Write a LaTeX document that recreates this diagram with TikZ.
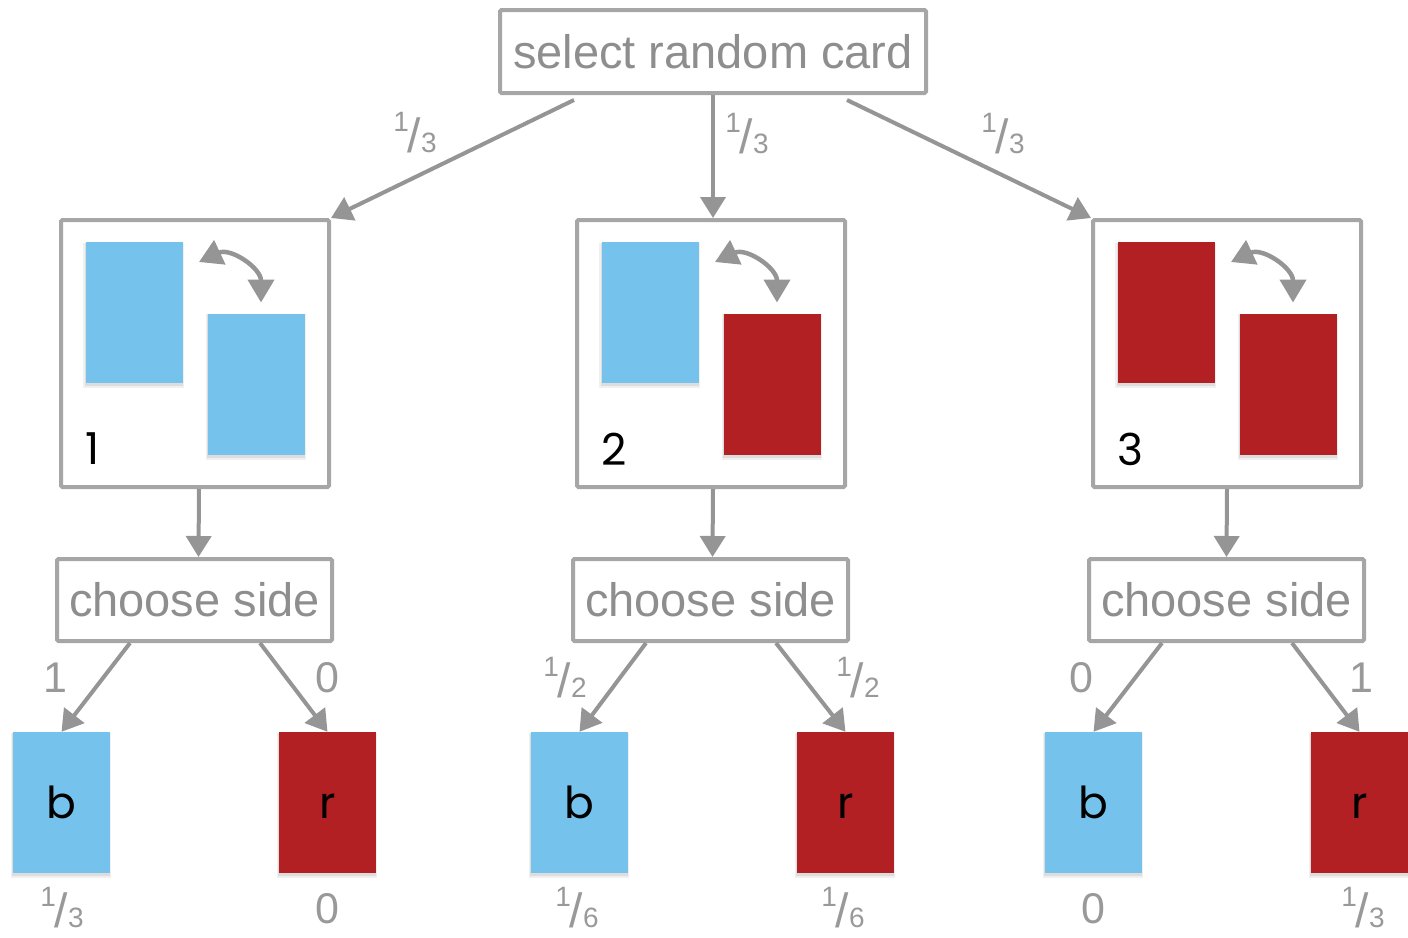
\documentclass[tikz,border=0pt]{standalone}
\usepackage{fontspec}
\setmainfont{Liberation Sans}
\newfontfamily\geo{Poppins}
\usetikzlibrary{arrows.meta,calc}
\definecolor{boxgray}{HTML}{A6A6A6}
\definecolor{arrgray}{HTML}{959595}
\definecolor{txtgray}{HTML}{8E8E8E}
\definecolor{lblgray}{HTML}{999999}
\definecolor{cblue}{HTML}{75C3EC}
\definecolor{cred}{HTML}{B22023}
\newcommand{\fr}[2]{{\fontsize{28}{28}\selectfont\raisebox{21pt}{#1}}\kern-1pt{\fontsize{48}{48}\selectfont/}{\fontsize{28}{28}\selectfont#2}}
% card with soft shadow: name, style, coordinate name, text
\newcommand{\shcard}[4]{%
  \fill[black,opacity=0.06] ($(#3)+(-51,-70)$) rectangle ($(#3)+(49.5,75.5)$);
  \fill[black,opacity=0.08] ($(#3)+(-49.5,-70)$) rectangle ($(#3)+(48.5,73.5)$);
  \node[#2] (#1) at (#3) {#4};}
\tikzset{
  bx/.style={draw=boxgray, line width=4pt, rounded corners=1.5pt, fill=white, inner sep=0pt},
  titlebox/.style={bx, minimum width=426pt, minimum height=83pt, text=txtgray, font=\fontsize{47}{50}\selectfont},
  sidebox/.style={bx, minimum width=275pt, minimum height=82pt, text=txtgray, font=\fontsize{47}{50}\selectfont},
  cardbox/.style={bx, minimum width=268pt, minimum height=267pt},
  card/.style={minimum width=97pt, minimum height=141pt, inner sep=0pt},
  bluecard/.style={card, fill=cblue},
  redcard/.style={card, fill=cred},
  arr/.style={draw=arrgray, line width=4pt, -{Triangle[length=21pt,width=25pt]}},
  swap/.style={draw=arrgray, line width=4.5pt, {Triangle[length=23pt,width=26pt]}-{Triangle[length=23pt,width=26pt]}},
  lbl/.style={text=lblgray, inner sep=0pt, font=\fontsize{43}{45}\selectfont},
  num/.style={inner sep=0pt, anchor=west, font=\geo\fontsize{44}{46}\selectfont},
  leaf/.style={font=\geo\fontsize{44}{46}\selectfont}
}
\begin{document}
\begin{tikzpicture}[x=1pt,y=-1pt]
\useasboundingbox (0,0) rectangle (1408,937);
% top
\node[titlebox] (top) at (713,51.5) {select random card};
% card boxes
\foreach \i/\x/\ca/\cb in {1/195/bluecard/bluecard,2/711/bluecard/redcard,3/1227/redcard/redcard}{
  \node[cardbox] (c\i) at (\x,353.5) {};
  \coordinate (c\i ap) at ($(c\i)+(-61,-41)$);
  \coordinate (c\i bp) at ($(c\i)+(61.5,30.5)$);
  \shcard{c\i a}{\ca}{c\i ap}{}
  \shcard{c\i b}{\cb}{c\i bp}{}
  \node[num] (n\i) at ($(c\i.west)+(26,95.5)$) {\i};
  \coordinate (tl\i) at ($(c\i)+(4,-91.5)$);
  \coordinate (tr\i) at ($(c\i)+(66,-51)$);
  \draw[swap] (tl\i) to[out=25,in=90,looseness=1.2] (tr\i);
}
% choose side boxes
\node[sidebox] (s1) at (194.5,600) {choose side};
\node[sidebox] (s2) at (710.5,600) {choose side};
\node[sidebox] (s3) at (1226.5,600) {choose side};
% leaves
\foreach \i/\xb/\xr in {1/61.5/327.5,2/579.5/845.5,3/1093.5/1359.5}{
  \coordinate (bp\i) at (\xb,802.5);
  \coordinate (rp\i) at (\xr,802.5);
  \shcard{b\i}{bluecard,leaf}{bp\i}{b\vphantom{b}}
  \shcard{r\i}{redcard,leaf}{rp\i}{r\vphantom{b}}
}
% top arrows
\coordinate (tA) at ($(top.south west)+(76,5)$);
\coordinate (tC) at ($(top.south east)+(-81,5)$);
\draw[arr] (tA) -- (c1.north east);
\draw[arr] (top.south) -- (c2.north -| top.south);
\draw[arr] (tC) -- (c3.north west);
% box to choose side
\foreach \i/\dx in {1/4,2/2,3/0}{
  \draw[arr] ($(c\i.south)+(\dx,0)$) -- ($(s\i.north)+(\dx,0)$);
  \draw[arr] ($(s\i.south)+(-64.5,0)$) -- (b\i.north);
  \draw[arr] ($(s\i.south)+(65.5,0)$) -- (r\i.north);
}
% labels
\node[lbl] (p1) at (415,133) {\fr{1}{3}};
\node[lbl] (p2) at (747,134) {\fr{1}{3}};
\node[lbl] (p3) at (1003,134) {\fr{1}{3}};
\node[lbl] (q1) at (55,678) {1};
\node[lbl] (q2) at (327,678) {0};
\node[lbl] (q3) at (565,678) {\fr{1}{2}};
\node[lbl] (q4) at (858,678) {\fr{1}{2}};
\node[lbl] (q5) at (1081,678) {0};
\node[lbl] (q6) at (1361,678) {1};
\node[lbl] (f1) at (62,908) {\fr{1}{3}};
\node[lbl] (f2) at (327,909) {0};
\node[lbl] (f3) at (577,908) {\fr{1}{6}};
\node[lbl] (f4) at (843,908) {\fr{1}{6}};
\node[lbl] (f5) at (1093,909) {0};
\node[lbl] (f6) at (1363,908) {\fr{1}{3}};
\end{tikzpicture}
\end{document}
